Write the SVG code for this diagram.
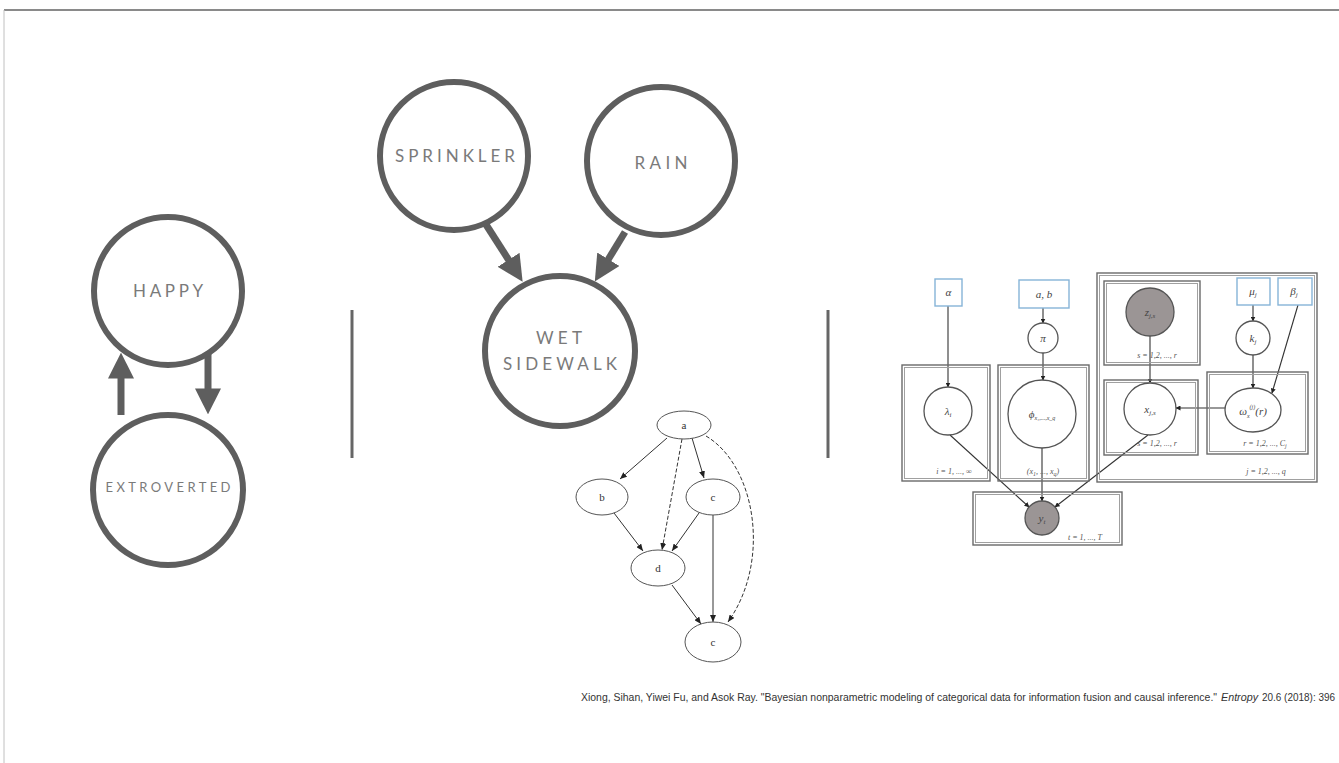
<svg xmlns="http://www.w3.org/2000/svg" width="1339" height="763" viewBox="0 0 1339 763">
<style>
.big{fill:none;stroke:#5e5e5e;stroke-width:6}
.lbl{font-family:Lato,"Open Sans","Liberation Sans",sans-serif;fill:#7a7a7a;text-anchor:middle}
.thick{stroke:#5e5e5e;stroke-width:7;fill:none}
.div{stroke:#666;stroke-width:3}
.dn{fill:#fff;stroke:#555;stroke-width:1}
.de{fill:none;stroke:#333;stroke-width:1}
.dt{font-family:"Liberation Serif",serif;font-size:11px;fill:#333;text-anchor:middle}
.po{fill:none;stroke:#6a6a6a;stroke-width:1.4}
.pi{fill:none;stroke:#a0a0a0;stroke-width:1}
.pc{fill:#fff;stroke:#555;stroke-width:1.3}
.pg{fill:#9b9595;stroke:#555;stroke-width:1.3}
.bb{fill:#fff;stroke:#86b4d8;stroke-width:1.4}
.pe{fill:none;stroke:#333;stroke-width:1.1}
.mt{font-family:"Liberation Serif",serif;font-style:italic;font-size:11px;fill:#444;text-anchor:middle}
.pl{font-family:"Liberation Serif",serif;font-style:italic;font-size:8px;fill:#555;text-anchor:middle}
.cit{font-family:"Liberation Sans",Arial,sans-serif;font-size:10.2px;fill:#333}
</style>
<defs>
<marker id="bigHead" viewBox="0 0 10 10" refX="1" refY="5" markerWidth="26" markerHeight="26" markerUnits="userSpaceOnUse" orient="auto" preserveAspectRatio="none"><path d="M0,0 L10,5 L0,10 z" fill="#5e5e5e"/></marker>
<marker id="sm" viewBox="0 0 10 10" refX="10" refY="5" markerWidth="7" markerHeight="6" markerUnits="userSpaceOnUse" orient="auto" preserveAspectRatio="none"><path d="M0,0 L10,5 L0,10 z" fill="#222"/></marker>
<marker id="pm" viewBox="0 0 10 10" refX="9" refY="5" markerWidth="5" markerHeight="5" markerUnits="userSpaceOnUse" orient="auto" preserveAspectRatio="none"><path d="M0,0 L10,5 L0,10 z" fill="#222"/></marker>
</defs>
<rect x="0" y="0" width="1339" height="763" fill="#fff"/>
<g id="frame">
<line x1="4" y1="10" x2="1339" y2="10" stroke="#8a8a8a" stroke-width="2"/>
<line x1="4" y1="10" x2="4" y2="763" stroke="#c0c0c0" stroke-width="1"/>
</g>
<g id="dividers">
<line class="div" x1="352" y1="310" x2="352" y2="458"/>
<line class="div" x1="828" y1="310" x2="828" y2="458"/>
</g>
<g id="connectors">
<line class="thick" x1="121" y1="415" x2="121" y2="376" marker-end="url(#bigHead)"/>
<line class="thick" x1="208" y1="353" x2="208" y2="391" marker-end="url(#bigHead)"/>
<line class="thick" x1="485" y1="223" x2="510" y2="262" marker-end="url(#bigHead)"/>
<line class="thick" x1="625" y1="232" x2="607" y2="261.5" marker-end="url(#bigHead)"/>
<path class="de" d="M667,438 L620,479" marker-end="url(#sm)"/>
<path class="de" d="M682,439 L662,550" stroke-dasharray="4,2" marker-end="url(#sm)"/>
<path class="de" d="M692,438 L704,478" marker-end="url(#sm)"/>
<path class="de" d="M706,436 C755,465 772,560 728,622" stroke-dasharray="4,2" marker-end="url(#sm)"/>
<path class="de" d="M614,513 L643,551" marker-end="url(#sm)"/>
<path class="de" d="M699,513 L672,551" marker-end="url(#sm)"/>
<path class="de" d="M713,515 L713,622" marker-end="url(#sm)"/>
<path class="de" d="M672,585 L701,624" marker-end="url(#sm)"/>
<path class="pe" d="M948,306 L948,387" marker-end="url(#pm)"/>
<path class="pe" d="M1043,308 L1043,323" marker-end="url(#pm)"/>
<path class="pe" d="M1043,353 L1043,380" marker-end="url(#pm)"/>
<path class="pe" d="M950,435 L1029,507" marker-end="url(#pm)"/>
<path class="pe" d="M1042,448 L1042,501" marker-end="url(#pm)"/>
<path class="pe" d="M1148,435 L1055,507" marker-end="url(#pm)"/>
<path class="pe" d="M1150,336 L1150,383" marker-end="url(#pm)"/>
<path class="pe" d="M1253,305 L1253,321" marker-end="url(#pm)"/>
<path class="pe" d="M1253,355 L1253,388" marker-end="url(#pm)"/>
<path class="pe" d="M1298,305 L1272,393" marker-end="url(#pm)"/>
<path class="pe" d="M1225,408 L1176,408" marker-end="url(#pm)"/>
</g>
<g id="happy"><circle class="big" cx="168" cy="291" r="74"/><text class="lbl" x="168" y="297" font-size="17" textLength="70" lengthAdjust="spacing">HAPPY</text></g>
<g id="extroverted"><circle class="big" cx="168" cy="490" r="75"/><text class="lbl" x="168" y="492" font-size="13" textLength="125" lengthAdjust="spacing">EXTROVERTED</text></g>
<g id="sprinkler"><circle class="big" cx="454" cy="156" r="74"/><text class="lbl" x="455" y="162" font-size="17" textLength="120" lengthAdjust="spacing">SPRINKLER</text></g>
<g id="rain"><circle class="big" cx="661" cy="161" r="74"/><text class="lbl" x="661" y="169" font-size="17" textLength="53" lengthAdjust="spacing">RAIN</text></g>
<g id="wet-sidewalk"><circle class="big" cx="560" cy="351" r="75"/><text class="lbl" x="559" y="344" font-size="17" textLength="46" lengthAdjust="spacing">WET</text><text class="lbl" x="560" y="370" font-size="17" textLength="114" lengthAdjust="spacing">SIDEWALK</text></g>
<g id="dag-a"><ellipse class="dn" cx="684" cy="425" rx="27" ry="14"/><text class="dt" x="684" y="429">a</text></g>
<g id="dag-b"><ellipse class="dn" cx="602" cy="497" rx="26" ry="18"/><text class="dt" x="602" y="501">b</text></g>
<g id="dag-c"><ellipse class="dn" cx="713" cy="497" rx="27" ry="18"/><text class="dt" x="713" y="501">c</text></g>
<g id="dag-d"><ellipse class="dn" cx="658" cy="568" rx="27" ry="18"/><text class="dt" x="658" y="572">d</text></g>
<g id="dag-e"><ellipse class="dn" cx="713" cy="642" rx="28" ry="20"/><text class="dt" x="713" y="646">c</text></g>
<g id="plate-i"><rect class="po" x="902" y="365" width="88" height="116"/><rect class="pi" x="904.5" y="367.5" width="83" height="111"/><text class="pl" x="954" y="474">i = 1, ..., ∞</text></g>
<g id="plate-x"><rect class="po" x="998" y="365" width="91" height="116"/><rect class="pi" x="1000.5" y="367.5" width="86" height="111"/><text class="pl" x="1043" y="474">(x<tspan font-size="6" dy="2">1</tspan><tspan dy="-2">, ..., x</tspan><tspan font-size="6" dy="2">q</tspan><tspan dy="-2">)</tspan></text></g>
<g id="plate-j"><rect class="po" x="1097" y="273" width="220" height="209"/><rect class="pi" x="1099.5" y="275.5" width="215" height="204"/><text class="pl" x="1266" y="474">j = 1,2, ..., q</text></g>
<g id="plate-s1"><rect class="po" x="1104" y="281" width="96" height="84"/><rect class="pi" x="1106.5" y="283.5" width="91" height="79"/><text class="pl" x="1157" y="358">s = 1,2, ..., r</text></g>
<g id="plate-s2"><rect class="po" x="1104" y="380" width="94" height="75"/><rect class="pi" x="1106.5" y="382.5" width="89" height="70"/><text class="pl" x="1157" y="446">s = 1,2, ..., r</text></g>
<g id="plate-r"><rect class="po" x="1207" y="372" width="101" height="82"/><rect class="pi" x="1209.5" y="374.5" width="96" height="77"/><text class="pl" x="1265" y="446">r = 1,2, ..., C<tspan font-size="6" dy="2">j</tspan></text></g>
<g id="plate-t"><rect class="po" x="973" y="492" width="149" height="53"/><rect class="pi" x="975.5" y="494.5" width="144" height="48"/><text class="pl" x="1085" y="540">t = 1, ..., T</text></g>
<g id="box-alpha"><rect class="bb" x="935" y="279" width="27" height="27"/><text class="mt" x="948.5" y="296">α</text></g>
<g id="box-ab"><rect class="bb" x="1019" y="280" width="50" height="28"/><text class="mt" x="1044" y="298">a, b</text></g>
<g id="box-mu"><rect class="bb" x="1237" y="278" width="33" height="27"/><text class="mt" x="1253" y="295">μ<tspan font-size="7" dy="2">j</tspan></text></g>
<g id="box-beta"><rect class="bb" x="1278" y="278" width="34" height="27"/><text class="mt" x="1294" y="295">β<tspan font-size="7" dy="2">j</tspan></text></g>
<g id="node-pi"><circle class="pc" cx="1043" cy="338" r="15"/><text class="mt" x="1043" y="342">π</text></g>
<g id="node-lambda"><circle class="pc" cx="948" cy="411" r="24"/><text class="mt" x="948" y="415">λ<tspan font-size="7" dy="2">i</tspan></text></g>
<g id="node-phi"><circle class="pc" cx="1042" cy="414" r="34"/><text class="mt" x="1042" y="418">ϕ<tspan font-size="6" dy="2">x₁,...,x_q</tspan></text></g>
<g id="node-z"><circle class="pg" cx="1150" cy="312" r="24"/><text class="mt" x="1150" y="316">z<tspan font-size="7" dy="2">j,s</tspan></text></g>
<g id="node-x"><circle class="pc" cx="1150" cy="409" r="26"/><text class="mt" x="1150" y="413">x<tspan font-size="7" dy="2">j,s</tspan></text></g>
<g id="node-k"><circle class="pc" cx="1253" cy="338" r="17"/><text class="mt" x="1253" y="342">k<tspan font-size="7" dy="2">j</tspan></text></g>
<g id="node-omega"><ellipse class="pc" cx="1253" cy="410" rx="28" ry="22"/><text class="mt" x="1253" y="415">ω<tspan font-size="6" dy="3">x</tspan><tspan font-size="6" dy="-9">(j)</tspan><tspan dy="6">(r)</tspan></text></g>
<g id="node-y"><circle class="pg" cx="1042" cy="518" r="17"/><text class="mt" x="1042" y="522">y<tspan font-size="7" dy="2">t</tspan></text></g>
<g id="citation">
<text class="cit" x="581" y="701" textLength="636" lengthAdjust="spacingAndGlyphs">Xiong, Sihan, Yiwei Fu, and Asok Ray. "Bayesian nonparametric modeling of categorical data for information fusion and causal inference."</text>
<text class="cit" x="1221" y="701" font-style="italic" textLength="37" lengthAdjust="spacingAndGlyphs">Entropy</text>
<text class="cit" x="1262" y="701" textLength="73" lengthAdjust="spacingAndGlyphs">20.6 (2018): 396</text>
</g>
</svg>
